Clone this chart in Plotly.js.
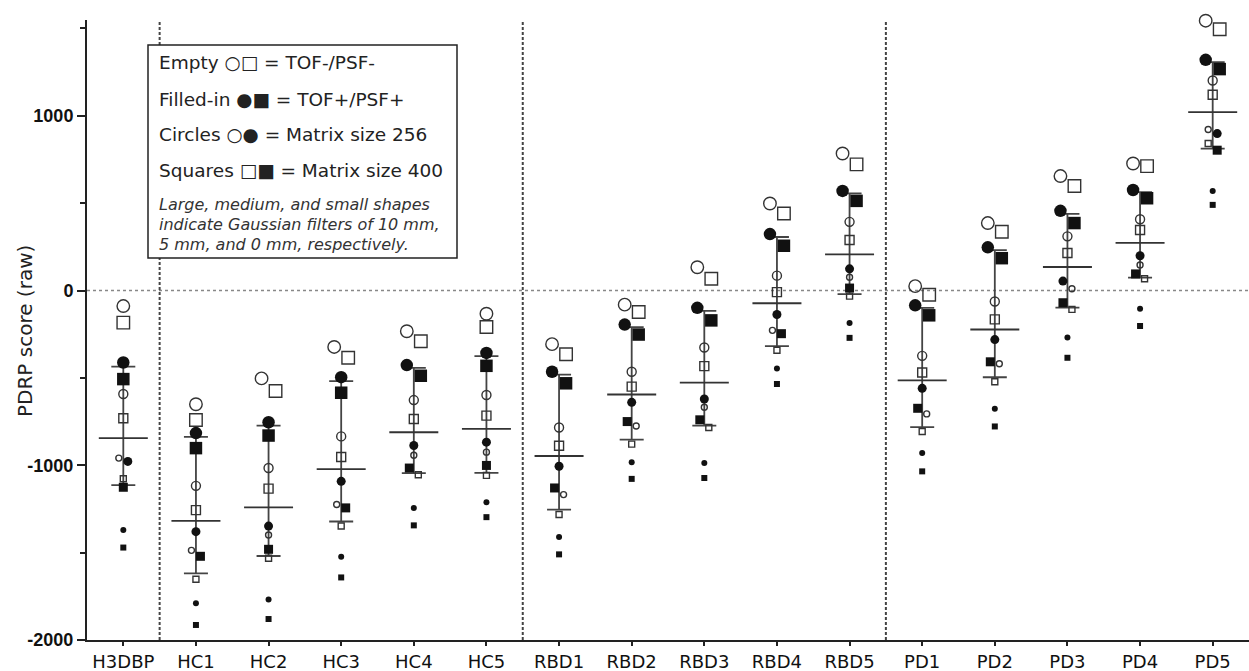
<!DOCTYPE html>
<html>
<head>
<meta charset="utf-8">
<script src="https://cdn.plot.ly/plotly-3.0.1.min.js"></script>
<style>
  html, body { margin: 0; padding: 0; background: #fff; }
  #chart { width: 1249px; height: 671px; }
</style>
</head>
<body>
<div id="chart"></div>
<script>
// ---------------- DATA ----------------
const categories = ['H3DBP','HC1','HC2','HC3','HC4','HC5','RBD1','RBD2','RBD3','RBD4','RBD5','PD1','PD2','PD3','PD4','PD5'];

// Empty = TOF-/PSF-, Filled = TOF+/PSF+ ; Circle = matrix 256, Square = matrix 400 ; L/M/S = 10/5/0 mm filter
const openCircleL   = [-89, -651, -503, -323, -233, -133, -307, -81, 133, 498, 784, 25, 386, 655, 727, 1544];
const openSquareL   = [-184, -741, -575, -385, -290, -209, -365, -123, 67, 441, 722, -24, 336, 598, 712, 1495];
const filledCircleL = [-412, -816, -754, -496, -427, -357, -465, -195, -99, 323, 570, -85, 247, 456, 575, 1320];
const filledSquareL = [-507, -902, -830, -585, -488, -431, -531, -252, -171, 256, 513, -142, 185, 386, 528, 1267];
const openCircleM   = [-592, -1118, -1016, -835, -627, -598, -784, -465, -326, 85, 393, -374, -63, 310, 408, 1202];
const openSquareM   = [-731, -1257, -1134, -953, -735, -716, -888, -550, -433, -9, 289, -469, -165, 215, 346, 1120];
const filledCircleM = [-978, -1380, -1348, -1092, -887, -868, -1006, -640, -621, -137, 124, -560, -281, 54, 199, 898];
const filledSquareM = [-1126, -1521, -1481, -1244, -1016, -1001, -1130, -750, -740, -247, 14, -674, -408, -70, 95, 803];
const openCircleS   = [-959, -1487, -1399, -1225, -943, -925, -1168, -775, -668, -228, 76, -706, -419, 10, 146, 921];
const openSquareS   = [-1077, -1652, -1532, -1348, -1054, -1058, -1282, -879, -784, -342, -32, -807, -522, -108, 67, 841];
const filledCircleS = [-1371, -1789, -1768, -1524, -1244, -1211, -1411, -983, -987, -446, -186, -930, -676, -269, -104, 570];
const filledSquareS = [-1471, -1914, -1880, -1642, -1344, -1297, -1510, -1078, -1073, -535, -271, -1035, -778, -385, -203, 490];

const yTickVals = [-2000, -1000, 0, 1000];
const yTickText = ['-2000', '-1000', '0', '1000'];
const yMinorTickVals = [-1500, -500, 500, 1500];

const legendLines = [
  'Empty \u25CB\u25A1 = TOF-/PSF-',
  'Filled-in \u25CF\u25A0 = TOF+/PSF+',
  'Circles \u25CB\u25CF = Matrix size 256',
  'Squares \u25A1\u25A0 = Matrix size 400'
];
const legendNote = [
  'Large, medium, and small shapes',
  'indicate Gaussian filters of 10 mm,',
  '5 mm, and 0 mm, respectively.'
];
const yTitle = 'PDRP score (raw)';

// ---------------- STYLE ----------------
const W = 1249, H = 671;
const M = {l: 87, r: 0, t: 20, b: 31};
const yRange = [-2000, 1548];
const xRange = [-0.5, 15.5];
const SZ = {L: 12.5, M: 9, S: 6};       // drawn marker sizes
const VIS = {L: 13, M: 9.5, S: 6.5};    // visual diameters used for spreading
const LINE_C = '#333', FILL_C = '#111';

const series = [
  {vals: openCircleL,   sym: 'circle-open', s: 'L', open: true},
  {vals: openSquareL,   sym: 'square-open', s: 'L', open: true},
  {vals: filledCircleL, sym: 'circle',      s: 'L', open: false},
  {vals: filledSquareL, sym: 'square',      s: 'L', open: false},
  {vals: openCircleM,   sym: 'circle-open', s: 'M', open: true},
  {vals: openSquareM,   sym: 'square-open', s: 'M', open: true},
  {vals: filledCircleM, sym: 'circle',      s: 'M', open: false},
  {vals: filledSquareM, sym: 'square',      s: 'M', open: false},
  {vals: openCircleS,   sym: 'circle-open', s: 'S', open: true},
  {vals: openSquareS,   sym: 'square-open', s: 'S', open: true},
  {vals: filledCircleS, sym: 'circle',      s: 'S', open: false},
  {vals: filledSquareS, sym: 'square',      s: 'S', open: false}
];

// ---------------- HELPERS ----------------
const plotW = W - M.l - M.r, plotH = H - M.t - M.b;
const pxPerX = plotW / (xRange[1] - xRange[0]);
const pxPerY = plotH / (yRange[1] - yRange[0]);

function quantile(sortedAsc, p) {
  const n = sortedAsc.length;
  const pos = (n + 1) * p;
  if (pos <= 1) return sortedAsc[0];
  if (pos >= n) return sortedAsc[n - 1];
  const lo = Math.floor(pos), f = pos - lo;
  return sortedAsc[lo - 1] + f * (sortedAsc[lo] - sortedAsc[lo - 1]);
}

// beeswarm-style horizontal spreading (pixel offsets), computed from the values
const offsets = series.map(() => new Array(categories.length).fill(0));
categories.forEach((c, i) => {
  const pts = series.map((s, k) => ({k, v: s.vals[i], r: VIS[s.s] / 2, off: 0, paired: false}));
  pts.sort((a, b) => b.v - a.v);
  const placed = [];
  const thr = (p, q) => p.r + q.r - 0.1;
  const hit = (p, off, alt) => placed.some(q => {
    const qo = (alt && alt.q === q) ? alt.off : q.off;
    return Math.hypot(off - qo, (p.v - q.v) * pxPerY) < thr(p, q);
  });
  pts.forEach(p => {
    const cands = [0];
    placed.forEach(q => {
      if (Math.abs(p.v - q.v) * pxPerY < thr(p, q)) {
        const sep = p.r + q.r + 1;
        cands.push(q.off + sep, q.off - sep);
      }
    });
    cands.sort((a, b) => (Math.abs(a) - Math.abs(b)) || (b - a));
    let chosen = cands.find(o => !hit(p, o));
    if (chosen === undefined) chosen = 0;
    p.off = chosen;
    if (chosen !== 0) {
      const col = placed.filter(q => Math.hypot(q.off, (p.v - q.v) * pxPerY) < thr(p, q));
      if (col.length === 1 && col[0].off === 0 && !col[0].paired) {
        const q = col[0], half = chosen / 2;
        const qOk = !placed.some(o => o !== q && Math.hypot(-half - o.off, (q.v - o.v) * pxPerY) < thr(q, o));
        const pOk = !hit(p, half, {q: q, off: -half});
        if (qOk && pOk) { q.off = -half; p.off = half; q.paired = p.paired = true; }
      }
    }
    placed.push(p);
  });
  pts.forEach(p => { offsets[p.k][i] = p.off; });
});

// median and interquartile range per category
const medians = [], q1s = [], q3s = [];
categories.forEach((c, i) => {
  const v = series.map(s => s.vals[i]).sort((a, b) => a - b);
  medians.push(quantile(v, 0.5));
  q1s.push(quantile(v, 0.25));
  q3s.push(quantile(v, 0.75));
});

const catIdx = categories.map((c, i) => i);

// ---------------- TRACES ----------------
const traces = [];
traces.push({
  type: 'scatter', mode: 'markers', x: catIdx, y: medians,
  marker: {symbol: 'line-ew', size: 35, color: '#333', line: {color: '#333', width: 1.8}},
  error_y: {type: 'data', symmetric: false,
    array: medians.map((m, i) => q3s[i] - m),
    arrayminus: medians.map((m, i) => m - q1s[i]),
    color: '#444', thickness: 1.8, width: 12},
  cliponaxis: false, showlegend: false, hoverinfo: 'skip'
});
series.forEach((s, k) => {
  traces.push({
    type: 'scatter', mode: 'markers',
    x: catIdx.map(i => i + offsets[k][i] / pxPerX),
    y: s.vals,
    marker: {
      symbol: s.sym, size: SZ[s.s],
      color: s.open ? LINE_C : FILL_C,
      line: {color: s.open ? LINE_C : FILL_C, width: s.open ? 1.4 : 0}
    },
    cliponaxis: false, showlegend: false
  });
});

// ---------------- SHAPES / ANNOTATIONS ----------------
const prefix = c => c.match(/^[A-Z]+/)[0];
const shapes = [];
shapes.push({type: 'line', xref: 'paper', x0: 0, x1: 1, yref: 'y', y0: 0, y1: 0,
  line: {color: '#888', width: 1.3, dash: 'dot'}, layer: 'below'});
categories.forEach((c, i) => {
  if (i > 0 && prefix(c) !== prefix(categories[i - 1])) {
    shapes.push({type: 'line', xref: 'x', x0: i - 0.5, x1: i - 0.5, yref: 'paper', y0: 0, y1: 1,
      line: {color: '#444', width: 2, dash: '3px,2px'}, layer: 'above'});
  }
});
const px2x = px => (px - M.l) / plotW;
const py2y = py => (H - M.b - py) / plotH;
shapes.push({type: 'rect', xref: 'paper', yref: 'paper',
  x0: px2x(148), x1: px2x(457), y0: py2y(258), y1: py2y(45),
  line: {color: '#222', width: 1.5}, fillcolor: '#fff', layer: 'above'});

const annotations = [];
const lineY = [63, 99, 134.5, 170];
legendLines.forEach((t, j) => annotations.push({
  text: t, xref: 'paper', yref: 'paper', x: px2x(157), y: py2y(lineY[j]),
  xanchor: 'left', yanchor: 'middle', showarrow: false,
  font: {family: 'DejaVu Sans', size: 18.5, color: '#222'}
}));
const noteY = [204.5, 224.5, 244];
legendNote.forEach((t, j) => annotations.push({
  text: t, xref: 'paper', yref: 'paper', x: px2x(157), y: py2y(noteY[j]),
  xanchor: 'left', yanchor: 'middle', showarrow: false,
  font: {family: 'DejaVu Sans', size: 16, color: '#333', style: 'italic'}
}));
annotations.push({
  text: yTitle, xref: 'paper', yref: 'paper', x: px2x(25), y: py2y(331),
  xanchor: 'center', yanchor: 'middle', textangle: -90, showarrow: false,
  font: {family: 'DejaVu Sans', size: 20, color: '#222'}
});

// ---------------- LAYOUT ----------------
const layout = {
  width: W, height: H,
  margin: M,
  paper_bgcolor: '#fff', plot_bgcolor: '#fff',
  showlegend: false,
  xaxis: {
    range: xRange, tickmode: 'array', tickvals: catIdx, ticktext: categories,
    showline: true, linecolor: '#222', linewidth: 2,
    ticks: 'outside', ticklen: 4, tickwidth: 2, tickcolor: '#222',
    tickfont: {family: 'DejaVu Sans', size: 18, color: '#111'},
    showgrid: false, zeroline: false, fixedrange: true
  },
  yaxis: {
    range: yRange, tickmode: 'array', tickvals: yTickVals, ticktext: yTickText,
    showline: true, linecolor: '#222', linewidth: 2,
    ticks: 'outside', ticklen: 8, tickwidth: 2, tickcolor: '#222',
    tickfont: {family: 'Liberation Sans, Arial, sans-serif', size: 18, color: '#111', weight: 'bold'},
    minor: {tickmode: 'array', tickvals: yMinorTickVals, ticks: 'outside', ticklen: 5, tickwidth: 2, tickcolor: '#222', showgrid: false},
    showgrid: false, zeroline: false, fixedrange: true
  },
  shapes: shapes,
  annotations: annotations
};

Plotly.newPlot('chart', traces, layout, {staticPlot: true, displayModeBar: false});
</script>
</body>
</html>
